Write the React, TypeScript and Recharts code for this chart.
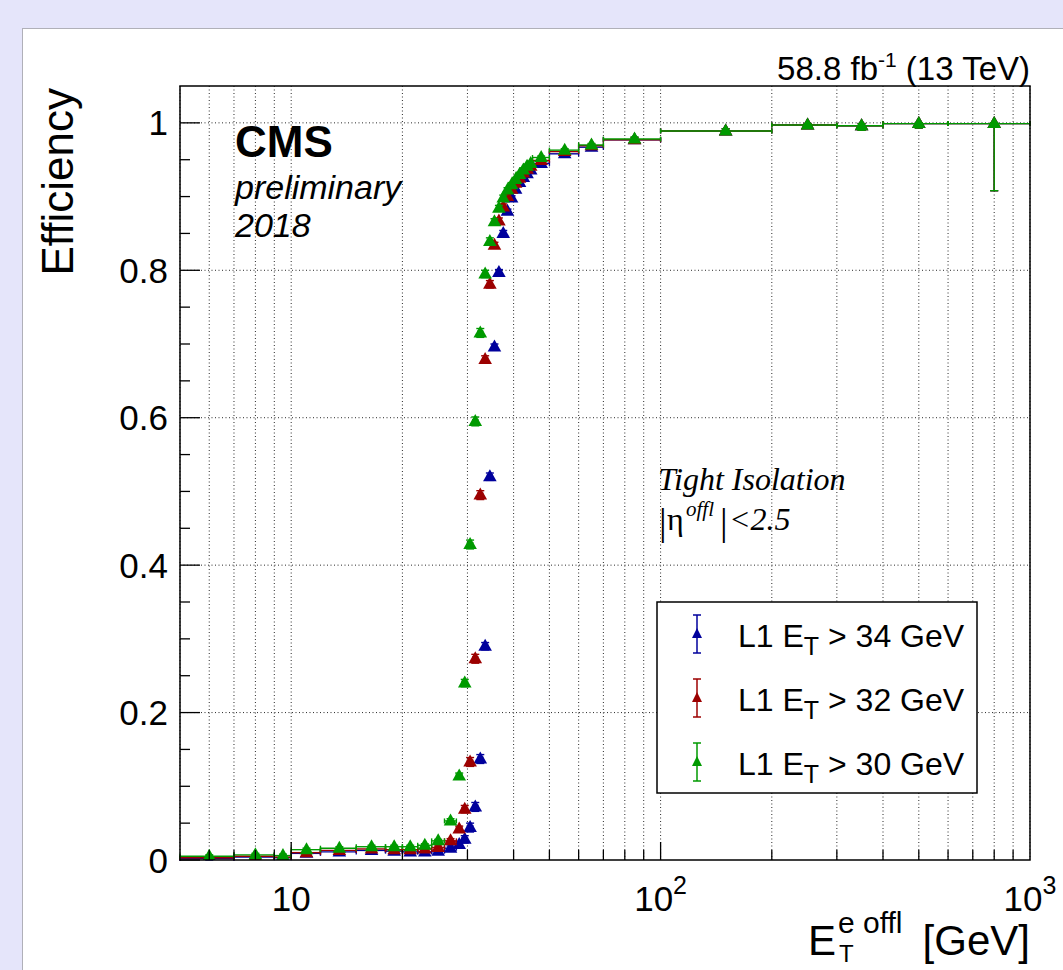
import React from 'react';
import { ComposedChart, Scatter, XAxis, YAxis, CartesianGrid, ErrorBar, ReferenceLine } from 'recharts';

// ---------- data ----------
const binLow = [5, 7, 9, 10, 12, 15, 18, 20, 22, 24, 26, 28, 29, 30, 31, 32, 33, 34, 35, 36, 37, 38, 39, 40, 41, 42, 43, 44, 45, 50, 60, 70, 100, 200, 300, 400, 600];
const binHigh = [7, 9, 10, 12, 15, 18, 20, 22, 24, 26, 28, 29, 30, 31, 32, 33, 34, 35, 36, 37, 38, 39, 40, 41, 42, 43, 44, 45, 50, 60, 70, 100, 200, 300, 400, 600, 1000];
const binCenter = [6, 8, 9.5, 11, 13.5, 16.5, 19, 21, 23, 25, 27, 28.5, 29.5, 30.5, 31.5, 32.5, 33.5, 34.5, 35.5, 36.5, 37.5, 38.5, 39.5, 40.5, 41.5, 42.5, 43.5, 44.5, 47.5, 55, 65, 85, 150, 250, 350, 500, 800];

const effL1Et34 = [0.002, 0.004, 0.003, 0.009, 0.011, 0.013, 0.012, 0.011, 0.011, 0.012, 0.016, 0.021, 0.028, 0.044, 0.072, 0.137, 0.290, 0.520, 0.696, 0.797, 0.850, 0.880, 0.898, 0.910, 0.919, 0.926, 0.931, 0.936, 0.945, 0.958, 0.967, 0.977, 0.989, 0.997, 0.996, 0.999, 0.999];
const effL1Et32 = [0.003, 0.005, 0.004, 0.010, 0.013, 0.015, 0.014, 0.014, 0.015, 0.017, 0.026, 0.042, 0.069, 0.133, 0.273, 0.495, 0.679, 0.781, 0.834, 0.867, 0.886, 0.900, 0.910, 0.918, 0.925, 0.932, 0.937, 0.941, 0.949, 0.961, 0.969, 0.977, 0.989, 0.997, 0.996, 0.999, 0.999];
const effL1Et30 = [0.005, 0.007, 0.006, 0.014, 0.016, 0.018, 0.018, 0.018, 0.020, 0.026, 0.053, 0.114, 0.240, 0.428, 0.595, 0.715, 0.795, 0.839, 0.866, 0.884, 0.898, 0.909, 0.916, 0.923, 0.930, 0.936, 0.941, 0.945, 0.953, 0.963, 0.970, 0.978, 0.989, 0.997, 0.996, 0.999, 0.999];

const effErrLow = [0.002, 0.002, 0.002, 0.002, 0.002, 0.002, 0.002, 0.002, 0.002, 0.002, 0.003, 0.004, 0.005, 0.006, 0.006, 0.006, 0.005, 0.005, 0.004, 0.004, 0.004, 0.003, 0.003, 0.003, 0.003, 0.003, 0.003, 0.003, 0.002, 0.002, 0.002, 0.003, 0.003, 0.004, 0.006, 0.006, 0.091];
const effErrHigh = [0.002, 0.002, 0.002, 0.002, 0.002, 0.002, 0.002, 0.002, 0.002, 0.002, 0.003, 0.004, 0.005, 0.006, 0.006, 0.006, 0.005, 0.005, 0.004, 0.004, 0.004, 0.003, 0.003, 0.003, 0.003, 0.003, 0.003, 0.003, 0.002, 0.002, 0.002, 0.003, 0.003, 0.002, 0.003, 0.001, 0.001];

const xTickValues = [6, 7, 8, 9, 10, 20, 30, 40, 50, 60, 70, 80, 90, 100, 200, 300, 400, 500, 600, 700, 800, 900, 1000];
const xTickLabels: Record<number, [string, string]> = { 10: ['10', ''], 100: ['10', '2'], 1000: ['10', '3'] };
const yTickValues = [0, 0.05, 0.1, 0.15, 0.2, 0.25, 0.3, 0.35, 0.4, 0.45, 0.5, 0.55, 0.6, 0.65, 0.7, 0.75, 0.8, 0.85, 0.9, 0.95, 1.0];
const yTickLabels: Record<number, string> = { 0: '0', 20: '0.2', 40: '0.4', 60: '0.6', 80: '0.8', 100: '1' };
const yGridValues = [0.2, 0.4, 0.6, 0.8, 1.0];

const seriesThresholds = ['34', '32', '30'];
const seriesColors = ['#00009c', '#9c0000', '#009a00'];
const seriesValues = [effL1Et34, effL1Et32, effL1Et30];

const SANS = '"Liberation Sans", Arial, Helvetica, sans-serif';
const SERIF = '"Liberation Serif", "Times New Roman", serif';
const GRID = '#2a2a2a';

function buildPoints(values: number[]) {
  return binCenter.map((x, i) => ({
    x,
    y: values[i],
    ex: [x - binLow[i], binHigh[i] - x],
    ey: [effErrLow[i], effErrHigh[i]],
  }));
}

const makeTriangle = (color: string) => (props: any) => {
  const { cx, cy } = props;
  if (cx == null || cy == null) return <g />;
  return <path d={`M ${cx} ${cy - 7.5} L ${cx + 6.8} ${cy + 4.5} L ${cx - 6.8} ${cy + 4.5} Z`} fill={color} />;
};
const emptyShape = () => <g />;

const YTick = (props: any) => {
  const { x, y, payload } = props;
  const key = Math.round(payload.value * 100);
  const label = yTickLabels[key];
  const major = label !== undefined;
  const len = major ? 20 : 10;
  return (
    <g>
      <line x1={x} x2={x + len} y1={y} y2={y} stroke="#000" strokeWidth={1.3} />
      {major && (
        <text x={x - 12} y={y + 12.5} textAnchor="end" fontSize={35} fontFamily={SANS} fill="#000">
          {label}
        </text>
      )}
    </g>
  );
};

const XTick = (props: any) => {
  const { x, y, payload } = props;
  const v = payload.value;
  const lab = xTickLabels[v];
  const len = lab ? 18 : 10;
  return (
    <g>
      {v < 1000 && <line x1={x} x2={x} y1={y} y2={y - len} stroke="#000" strokeWidth={1.3} />}
      {lab && (
        <text x={x} y={y + 51} textAnchor="middle" fontSize={35} fontFamily={SANS} fill="#000">
          {lab[0]}
          {lab[1] && (
            <tspan dy={-17} fontSize={25}>
              {lab[1]}
            </tspan>
          )}
        </text>
      )}
    </g>
  );
};

const legendRows = [634, 698, 762];

export default function App() {
  const layers: React.ReactNode[] = [];
  seriesValues.forEach((vals, s) => {
    const pts = buildPoints(vals);
    const zErr = 610 + 2 * s;
    const zMk = 611 + 2 * s;
    layers.push(
      <Scatter
        key={'e' + s}
        name={'err' + s}
        legendType="none"
        data={pts}
        fill={seriesColors[s]}
        shape={emptyShape}
        isAnimationActive={false}
        {...({ zIndex: zErr } as any)}
      >
        <ErrorBar dataKey="ex" direction="x" width={2.5} stroke={seriesColors[s]} strokeWidth={1.4} isAnimationActive={false} {...({ zIndex: zErr } as any)} />
        <ErrorBar dataKey="ey" direction="y" width={4} stroke={seriesColors[s]} strokeWidth={1.4} isAnimationActive={false} {...({ zIndex: zErr } as any)} />
      </Scatter>
    );
    layers.push(
      <Scatter
        key={'m' + s}
        name={'L1 E_T > ' + seriesThresholds[s] + ' GeV'}
        data={pts}
        fill={seriesColors[s]}
        shape={makeTriangle(seriesColors[s])}
        isAnimationActive={false}
        {...({ zIndex: zMk } as any)}
      />
    );
  });

  return (
    <div style={{ position: 'absolute', left: 0, top: 0, width: 1063, height: 970, background: '#e5e5fa', overflow: 'hidden' }}>
      <div
        style={{
          position: 'absolute',
          left: 22,
          top: 28,
          width: 1041,
          height: 942,
          background: '#ffffff',
          borderLeft: '1px solid #b0b0b8',
          borderTop: '1px solid #b0b0b8',
        }}
      />
      <div style={{ position: 'absolute', left: 0, top: 0 }}>
        <ComposedChart width={1063} height={970} margin={{ top: 86, right: 33, bottom: 70, left: 120 }}>
          <CartesianGrid vertical={true} horizontal={false} stroke={GRID} strokeDasharray="1 2.5" strokeWidth={1} />
          {yGridValues.map((v) => (
            <ReferenceLine key={'g' + v} y={v} stroke={GRID} strokeDasharray="1 2.5" strokeWidth={1} {...({ zIndex: -90 } as any)} />
          ))}
          <XAxis
            dataKey="x"
            type="number"
            scale="log"
            domain={[5, 1000]}
            allowDataOverflow
            ticks={xTickValues}
            interval={0}
            height={40}
            tickSize={0}
            tickMargin={0}
            axisLine={false}
            tickLine={false}
            tick={<XTick />}
          />
          <YAxis
            dataKey="y"
            type="number"
            domain={[0, 1.05]}
            allowDataOverflow
            ticks={yTickValues}
            interval={0}
            width={60}
            tickSize={0}
            tickMargin={0}
            axisLine={false}
            tickLine={false}
            tick={<YTick />}
          />
          {layers}
        </ComposedChart>
      </div>
      <svg width={1063} height={970} style={{ position: 'absolute', left: 0, top: 0, pointerEvents: 'none' }}>
        {/* frame */}
        <rect x={180} y={86} width={850} height={774} fill="none" stroke="#000" strokeWidth={1.5} />
        {/* luminosity label */}
        <text x={1030} y={80} textAnchor="end" fontSize={33} fontFamily={SANS} fill="#000">
          58.8 fb
          <tspan dy={-13} fontSize={21}>-1</tspan>
          <tspan dy={13}> (13 TeV)</tspan>
        </text>
        {/* CMS */}
        <text x={235} y={157} fontSize={44} fontWeight="bold" fontFamily={SANS} fill="#000">CMS</text>
        <text x={235} y={199} fontSize={34} fontStyle="italic" fontFamily={SANS} fill="#000">preliminary</text>
        <text x={235} y={237} fontSize={34} fontStyle="italic" fontFamily={SANS} fill="#000">2018</text>
        {/* selection text */}
        <text x={658} y={490} fontSize={32} fontStyle="italic" fontFamily={SERIF} fill="#000">Tight Isolation</text>
        <text x={659} y={535} fontSize={38} fontFamily={SERIF} fill="#000">|</text>
        <text x={667} y={530} fontSize={32} fontFamily={SERIF} fill="#000">η</text>
        <text x={686} y={516} fontSize={21} fontStyle="italic" fontFamily={SERIF} fill="#000">offl</text>
        <text x={720} y={535} fontSize={38} fontFamily={SERIF} fill="#000">|</text>
        <text x={729} y={530} fontSize={32} fontStyle="italic" fontFamily={SERIF} fill="#000">&lt;2.5</text>
        {/* legend */}
        <rect x={657} y={602} width={320} height={191} fill="#fff" stroke="#000" strokeWidth={1.5} />
        {legendRows.map((cy, i) => (
          <g key={'l' + i}>
            <line x1={697} x2={697} y1={cy - 19} y2={cy + 19} stroke={seriesColors[i]} strokeWidth={1.5} />
            <line x1={693} x2={701} y1={cy - 19} y2={cy - 19} stroke={seriesColors[i]} strokeWidth={1.5} />
            <line x1={693} x2={701} y1={cy + 19} y2={cy + 19} stroke={seriesColors[i]} strokeWidth={1.5} />
            <path d={`M ${697} ${cy - 6} L ${702} ${cy + 4} L ${692} ${cy + 4} Z`} fill={seriesColors[i]} />
            <text x={738} y={cy + 13} fontSize={32} fontFamily={SANS} fill="#000">
              L1 E
              <tspan dy={8} fontSize={25}>T</tspan>
              <tspan dy={-8}>{' > ' + seriesThresholds[i] + ' GeV'}</tspan>
            </text>
          </g>
        ))}
        {/* axis titles */}
        <text x={73} y={88} transform="rotate(-90 73 88)" textAnchor="end" fontSize={44} fontFamily={SANS} fill="#000">
          Efficiency
        </text>
        <text x={836} y={955} textAnchor="end" fontSize={42} fontFamily={SANS} fill="#000">E</text>
        <text x={838} y={933} fontSize={30} fontFamily={SANS} fill="#000">e offl</text>
        <text x={839} y={962} fontSize={24} fontFamily={SANS} fill="#000">T</text>
        <text x={1030} y={955} textAnchor="end" fontSize={42} fontFamily={SANS} fill="#000">[GeV]</text>
      </svg>
    </div>
  );
}
